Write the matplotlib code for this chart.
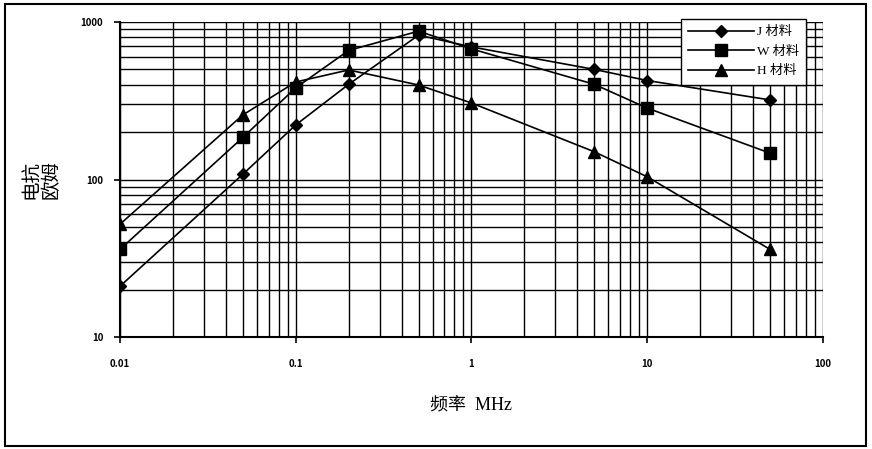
import matplotlib
matplotlib.use("Agg")
import matplotlib.pyplot as plt
from matplotlib.patches import Rectangle
from matplotlib.ticker import LogLocator, NullFormatter, FixedLocator, FixedFormatter

plt.rcParams['font.family'] = ['Noto Sans CJK SC', 'DejaVu Sans']

# data
freq = [0.01, 0.05, 0.1, 0.2, 0.5, 1, 5, 10, 50]
j_mat = [21, 108, 222, 402, 825, 695, 500, 425, 320]
w_mat = [36, 185, 382, 660, 875, 675, 402, 284, 147]
h_mat = [52, 257, 416, 496, 398, 306, 150, 104, 36]

names = ["J 材料", "W 材料", "H 材料"]
x_ticks = [0.01, 0.1, 1, 10, 100]
x_labels = ["0.01", "0.1", "1", "10", "100"]
y_ticks = [10, 100, 1000]
y_labels = ["10", "100", "1000"]

fig = plt.figure(figsize=(8.72, 4.49), dpi=100)
ax = fig.add_axes([0.1376, 0.2494, 0.8062, 0.7016])

ax.set_xscale('log')
ax.set_yscale('log')
ax.set_xlim(0.01, 100)
ax.set_ylim(10, 1000)

ax.plot(freq, j_mat, color='black', lw=1.2, marker='D', ms=6, label=names[0])
ax.plot(freq, w_mat, color='black', lw=1.2, marker='s', ms=8, label=names[1])
ax.plot(freq, h_mat, color='black', lw=1.2, marker='^', ms=8, label=names[2])

ax.xaxis.set_major_locator(FixedLocator(x_ticks))
ax.xaxis.set_major_formatter(FixedFormatter(x_labels))
ax.yaxis.set_major_locator(FixedLocator(y_ticks))
ax.yaxis.set_major_formatter(FixedFormatter(y_labels))
ax.xaxis.set_minor_locator(LogLocator(base=10, subs=range(2, 10)))
ax.yaxis.set_minor_locator(LogLocator(base=10, subs=range(2, 10)))
ax.xaxis.set_minor_formatter(NullFormatter())
ax.yaxis.set_minor_formatter(NullFormatter())

ax.grid(True, which='both', color='black', lw=1.0)
ax.set_axisbelow(True)
for s in ax.spines.values():
    s.set_visible(False)
ax.spines['left'].set_visible(True)
ax.spines['bottom'].set_visible(True)
ax.spines['left'].set_linewidth(1.5)
ax.spines['bottom'].set_linewidth(1.5)

ax.tick_params(which='major', length=4, width=1.2, labelsize=7, pad=12)
ax.tick_params(which='minor', length=0)
for lbl in ax.get_xticklabels() + ax.get_yticklabels():
    lbl.set_fontweight('bold')
ax.tick_params(axis='y', pad=8)

ax.set_xlabel("频率  MHz", fontsize=13, labelpad=20,
              family=['Liberation Serif', 'Noto Sans CJK SC'])
ax.set_ylabel("电抗\n欧姆", fontsize=14, labelpad=14, linespacing=0.85)

leg = ax.legend(loc='upper right', bbox_to_anchor=(0.976, 1.01),
                prop={'family': ['Liberation Serif', 'Noto Sans CJK SC'], 'size': 9.5},
                frameon=True, fancybox=False, edgecolor='black',
                framealpha=1, handlelength=5.0, borderpad=0.55,
                labelspacing=0.55, handletextpad=0.2, borderaxespad=0)
leg.get_frame().set_linewidth(1.0)

fig.patches.append(Rectangle((0.006, 0.007), 0.987, 0.983,
                             transform=fig.transFigure, fill=False,
                             edgecolor='black', lw=1.5))

fig.savefig("out.png", dpi=100)
